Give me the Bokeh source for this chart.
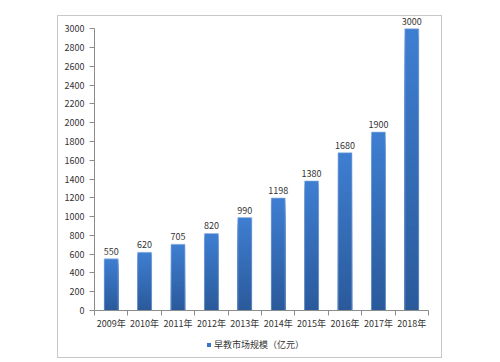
from bokeh.plotting import figure
from bokeh.layouts import column
from bokeh.models import Range1d, FixedTicker, Legend, LegendItem, ColumnDataSource
from bokeh.embed import file_html
from bokeh.resources import INLINE

years = ["2009年", "2010年", "2011年", "2012年", "2013年", "2014年", "2015年", "2016年", "2017年", "2018年"]
values = [550, 620, 705, 820, 990, 1198, 1380, 1680, 1900, 3000]
y_ticks = list(range(0, 3001, 200))
series_name = "早教市场规模（亿元）"

FONT = "Noto Sans CJK SC"
TOP = (63, 127, 210)
BOT = (43, 90, 155)
N = 40
BAR_W = 0.42

p = figure(width=383, height=320, output_backend="svg", toolbar_location=None,
           x_range=Range1d(-0.5, len(years) - 0.5), y_range=Range1d(0, 3120),
           min_border_left=36, min_border_right=13, min_border_top=1, min_border_bottom=26)
p.outline_line_color = None
p.xgrid.visible = False
p.ygrid.visible = False
p.background_fill_color = "white"
p.border_fill_color = "white"

# gradient bars (overlapping layers, tallest first, to avoid seams)
xs = list(range(len(years)))
l, r, t, c = [], [], [], []
for k in range(N, 0, -1):
    f = (k - 0.5) / N
    col = tuple(int(BOT[j] + (TOP[j] - BOT[j]) * f) for j in range(3))
    for i, v in enumerate(values):
        l.append(i - BAR_W / 2); r.append(i + BAR_W / 2)
        t.append(v * k / N)
        c.append("#%02x%02x%02x" % col)
p.quad(left=l, right=r, bottom=0, top=t, fill_color=c, line_color=None)
p.vbar(x=xs, top=values, width=BAR_W, fill_alpha=0.0, line_color="#9dbbe3", line_width=0.6)

src = ColumnDataSource(dict(x=xs, y=values, t=[str(v) for v in values]))
p.text(x="x", y="y", text="t", source=src, text_align="center", text_baseline="bottom",
       y_offset=-4, text_font_size="9px", text_color="#333333", text_font={"value": FONT})

# y axis
p.yaxis.ticker = FixedTicker(ticks=y_ticks)
p.yaxis.bounds = (0, 3000)
p.yaxis.axis_line_color = "#8c8c8c"
p.yaxis.major_tick_line_color = "#8c8c8c"
p.yaxis.major_tick_out = 5
p.yaxis.major_tick_in = 0
p.yaxis.minor_tick_line_color = None
p.yaxis.major_label_standoff = 5
p.yaxis.major_label_text_font_size = "9px"
p.yaxis.major_label_text_font = FONT
p.yaxis.major_label_text_color = "#333333"

# x axis
p.xaxis.ticker = FixedTicker(ticks=xs, minor_ticks=[i - 0.5 for i in range(len(years) + 1)])
p.xaxis.major_label_overrides = {i: y for i, y in enumerate(years)}
p.xaxis.axis_line_color = "#8c8c8c"
p.xaxis.major_tick_line_color = None
p.xaxis.major_tick_out = 0
p.xaxis.major_tick_in = 0
p.xaxis.minor_tick_line_color = "#8c8c8c"
p.xaxis.minor_tick_out = 5
p.xaxis.minor_tick_in = 0
p.xaxis.major_label_standoff = 1
p.xaxis.major_label_text_font_size = "9px"
p.xaxis.major_label_text_font = FONT
p.xaxis.major_label_text_color = "#333333"

# legend strip
lf = figure(width=383, height=21, output_backend="svg", toolbar_location=None,
            x_axis_location=None, y_axis_location=None,
            min_border=0, x_range=Range1d(0, 1), y_range=Range1d(0, 1))
lf.grid.visible = False
lf.outline_line_color = None
lf.border_fill_color = "white"
sw = lf.vbar(x=[0], top=[0], width=0, fill_color="#3a76c4", line_color=None)
legend = Legend(items=[LegendItem(label=series_name, renderers=[sw])], orientation="horizontal",
                location=(112, 6), glyph_width=5, glyph_height=5, label_text_font_size="9px",
                label_text_font=FONT, label_text_color="#333333", border_line_color=None,
                background_fill_alpha=0, padding=2, margin=0, label_standoff=3, label_height=10)
lf.add_layout(legend, "center")

layout = column(p, lf, spacing=0, margin=(15, 0, 0, 57),
                styles={"border": "1px solid #c8c8c8", "background": "white"})

open("out.html", "w").write(file_html(layout, INLINE))
